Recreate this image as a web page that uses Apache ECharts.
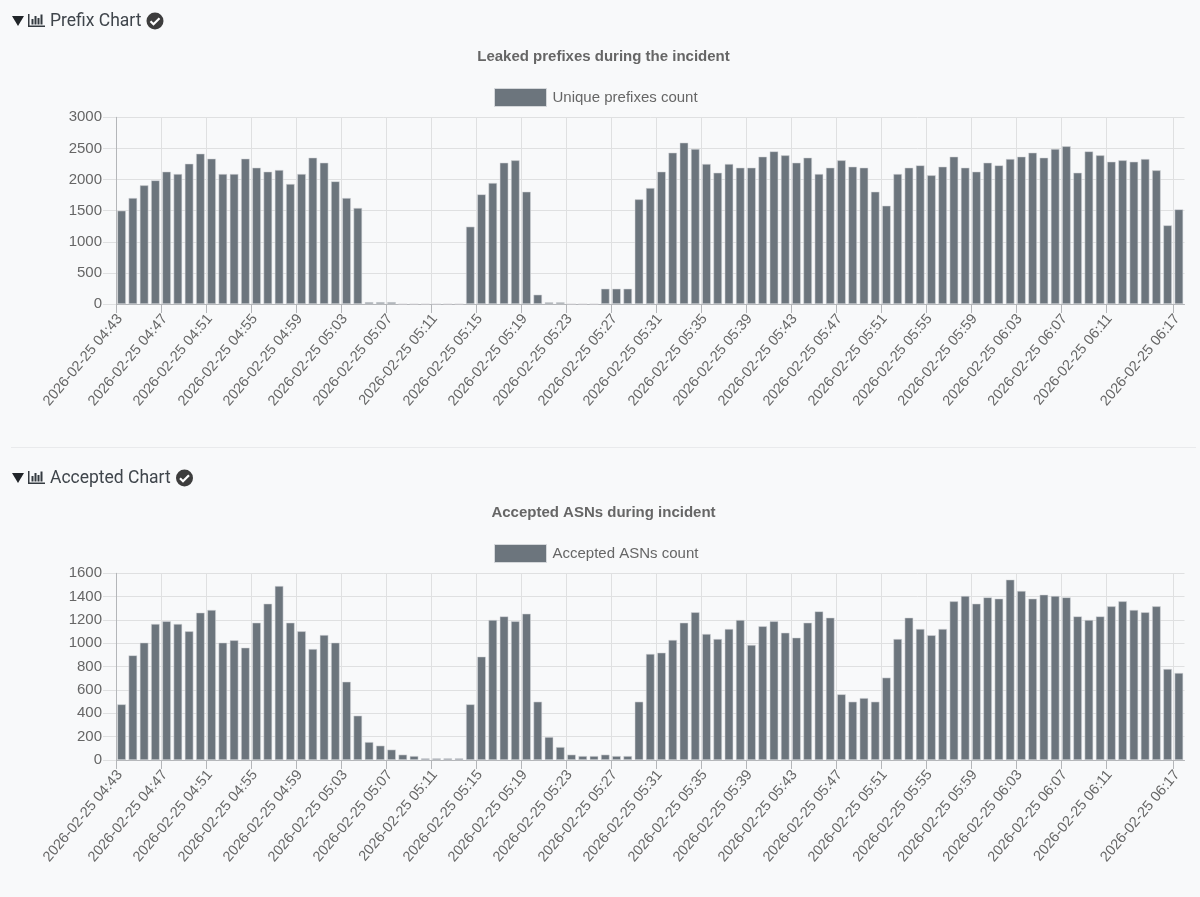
<!DOCTYPE html>
<html><head><meta charset="utf-8">
<style>html,body{margin:0;padding:0;background:#f8f9fa}#c{width:1200px;height:897px}</style>
<script src="https://cdn.jsdelivr.net/npm/echarts@6/dist/echarts.min.js"></script>
</head><body><div id="c"></div>
<script>
const prefixTitle = 'Leaked prefixes during the incident';
const acceptedTitle = 'Accepted ASNs during incident';
const prefixSeriesName = 'Unique prefixes count';
const acceptedSeriesName = 'Accepted ASNs count';
const prefixValues = [1500,1703,1907,1987,2127,2089,2255,2416,2336,2089,2089,2336,2191,2127,2153,1929,2089,2352,2271,1971,1703,1543,30,30,30,0,0,0,0,0,0,1243,1762,1945,2271,2309,1805,150,27,27,0,0,0,246,246,246,1682,1864,2127,2432,2593,2491,2250,2110,2250,2191,2191,2368,2453,2389,2271,2352,2089,2191,2309,2207,2191,1805,1580,2089,2191,2228,2068,2207,2368,2191,2127,2271,2228,2330,2368,2432,2352,2491,2534,2110,2453,2389,2287,2309,2287,2330,2148,1264,1521];
const acceptedValues = [477,897,1006,1166,1189,1166,1103,1263,1286,1006,1026,963,1177,1340,1491,1177,1103,951,1071,1006,671,380,154,123,89,46,34,14,14,14,14,477,886,1200,1231,1189,1254,500,197,111,46,34,34,46,34,34,500,909,920,1029,1177,1266,1080,1037,1123,1200,986,1146,1189,1091,1049,1177,1274,1220,563,500,531,500,706,1037,1220,1123,1069,1123,1360,1406,1340,1394,1383,1546,1449,1383,1417,1406,1394,1231,1200,1231,1317,1360,1286,1266,1317,780,746];
const shownTimes = ['04:43','04:47','04:51','04:55','04:59','05:03','05:07','05:11','05:15','05:19','05:23','05:27','05:31','05:35','05:39','05:43','05:47','05:51','05:55','05:59','06:03','06:07','06:11','06:17'];
const datePart = '2026-02-25 ';

const pad = n => String(n).padStart(2,'0');
const edges = [];
for (let m = 4*60+43; m <= 6*60+18; m++) edges.push(datePart + pad(Math.floor(m/60)) + ':' + pad(m%60));
const bands = edges.slice(0, 95);
const shown = new Set(shownTimes.map(t => datePart + t));
const isShown = (i, v) => shown.has(v);

const TXT = '#666666', GRID = '#dfe0e1', EDGE = '#b4b6b9', BAR = '#6c757d';
const FONT = '"Liberation Sans", Arial, sans-serif';

function panel(i, top, h, max, step) {
  return {
    grid: {left:116, width:1068.5, top, height:h, containLabel:false},
    xs: [
      {gridIndex:i, type:'category', data:bands, show:false, boundaryGap:true},
      {gridIndex:i, type:'category', data:edges, boundaryGap:false, position:'bottom',
       axisLine:{show:true, onZero:false, lineStyle:{color:EDGE, width:1}},
       axisTick:{show:true, length:9, interval:isShown, lineStyle:{color:EDGE, width:1}},
       splitLine:{show:true, interval:isShown, lineStyle:{color:GRID, width:1}},
       axisLabel:{show:true, interval:isShown, rotate:50, margin:9, verticalAlign:'top', lineHeight:10, color:TXT, fontSize:14.5, fontFamily:FONT, hideOverlap:false}}
    ],
    y: {gridIndex:i, type:'value', min:0, max, interval:step,
        axisLine:{show:true, lineStyle:{color:EDGE, width:1}},
        axisTick:{show:true, length:13, lineStyle:{color:GRID, width:1}},
        splitLine:{show:true, lineStyle:{color:GRID, width:1}},
        axisLabel:{margin:14, color:TXT, fontSize:15, fontFamily:FONT, formatter:v => String(v)}}
  };
}
const p1 = panel(0, 117.3, 186.7, 3000, 500);
const p2 = panel(1, 573.3, 186.7, 1600, 200);

function bar(name, data, xi, yi) {
  return {type:'bar', name, data, xAxisIndex:xi, yAxisIndex:yi, barWidth:8.6,
    itemStyle:{color:BAR, borderColor:'rgba(215,218,222,0.9)', borderWidth:0.6},
    silent:true, animation:false};
}
function legend(name, top) {
  return {data:[name], left:494, top, itemWidth:52, itemHeight:18, itemGap:0, icon:'rect', padding:0,
    selectedMode:false, textStyle:{color:TXT, fontSize:15, fontFamily:FONT, padding:[0,0,0,1]},
    itemStyle:{borderColor:'rgba(215,218,222,0.9)', borderWidth:1}};
}
function header(label, y, tx, checkX) {
  const ink = '#343a40', g = [];
  g.push({type:'polygon', shape:{points:[[12,y-5],[24,y-5],[18,y+5]]}, style:{fill:'#212529'}});
  g.push({type:'rect', shape:{x:28,y:y-7,width:1.5,height:13}, style:{fill:ink}});
  g.push({type:'rect', shape:{x:28,y:y+4.5,width:17,height:1.5}, style:{fill:ink}});
  [[31.5,y-2,2,5.5],[34.5,y-5,2,8.5],[37.5,y-3,2,6.5],[40.5,y-6.5,2,10]].forEach(r =>
    g.push({type:'rect', shape:{x:r[0],y:r[1],width:r[2],height:r[3]}, style:{fill:ink}}));
  g.push({type:'text', x:tx, y:y+1, style:{text:label, fill:'#3f454b', fontFamily:'Roboto', fontSize:17.5, verticalAlign:'middle', align:'left'}});
  g.push({type:'circle', shape:{cx:checkX, cy:y, r:8.5}, style:{fill:'#3d3d3d'}});
  g.push({type:'polyline', shape:{points:[[checkX-4.5,y+0.3],[checkX-1.5,y+3.3],[checkX+4.5,y-2.8]]}, style:{stroke:'#fff', lineWidth:2.2, fill:null}});
  return g;
}

const chart = echarts.init(document.getElementById('c'), null, {renderer:'canvas'});
chart.setOption({
  animation:false,
  backgroundColor:'#f8f9fa',
  title:[
    {text:prefixTitle, left:603.5, textAlign:'center', top:49, padding:0, textStyle:{color:TXT, fontSize:15, fontWeight:'bold', fontFamily:FONT}},
    {text:acceptedTitle, left:603.5, textAlign:'center', top:505, padding:0, textStyle:{color:TXT, fontSize:15, fontWeight:'bold', fontFamily:FONT}}
  ],
  legend:[legend(prefixSeriesName, 88), legend(acceptedSeriesName, 544)],
  grid:[p1.grid, p2.grid],
  xAxis:[...p1.xs, ...p2.xs],
  yAxis:[p1.y, p2.y],
  series:[bar(prefixSeriesName, prefixValues, 0, 0), bar(acceptedSeriesName, acceptedValues, 2, 1)],
  graphic:{elements:[
    ...header('Prefix Chart', 21, 50, 155),
    ...header('Accepted Chart', 478, 50, 184.5),
    {type:'rect', shape:{x:11,y:447,width:1185,height:1}, style:{fill:'#e9eaec'}}
  ]}
});
</script></body></html>
